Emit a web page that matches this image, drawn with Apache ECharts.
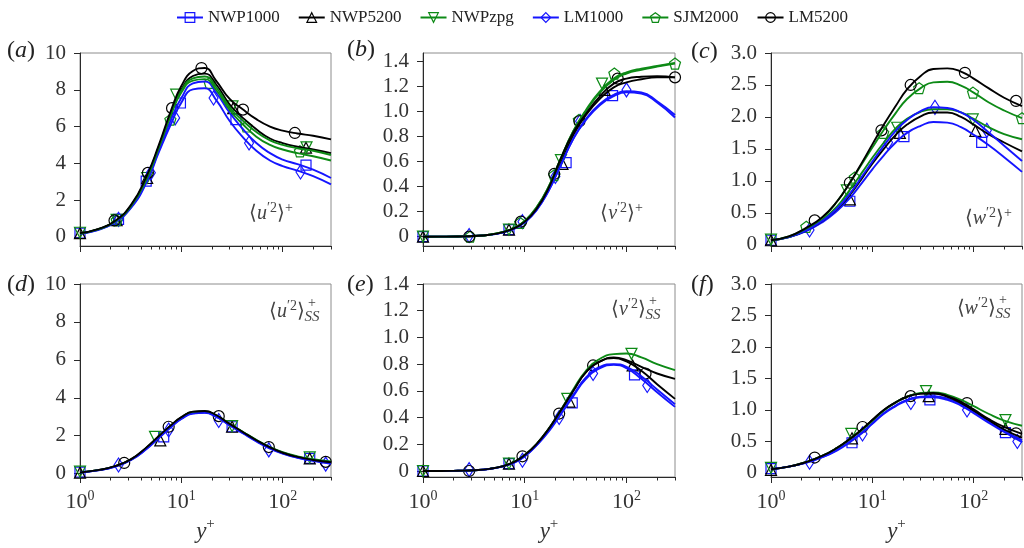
<!DOCTYPE html>
<html><head><meta charset="utf-8">
<script src="https://cdn.jsdelivr.net/npm/echarts@6/dist/echarts.min.js"></script>
<style>html,body{margin:0;padding:0;background:#fff}#c{width:1024px;height:548px}</style>
</head><body><div id="c"></div>
<script>
// ---------- data ----------
const xGrid = [1, 1.5, 2.2, 3.2, 4.5, 6, 8, 10, 13, 17, 22, 30, 40, 55, 75, 100, 140, 200, 300];
const seriesNames = ['NWP1000', 'NWP5200', 'NWPzpg', 'LM1000', 'SJM2000', 'LM5200'];
const xMajorTicks = [1, 10, 100];
const xMinorTicks = [2, 3, 4, 5, 6, 7, 8, 9, 20, 30, 40, 50, 60, 70, 80, 90, 200, 300];
const yTicksU = [0, 2, 4, 6, 8, 10];
const yTicksV = [0, 0.2, 0.4, 0.6, 0.8, 1.0, 1.2, 1.4];
const yTicksW = [0, 0.5, 1.0, 1.5, 2.0, 2.5, 3.0];

// (a) <u'^2>+
const aNWP1000 = [0.18, 0.38, 0.8, 1.62, 3.0, 4.7, 6.45, 7.55, 8.35, 8.45, 7.85, 6.75, 5.9, 5.1, 4.55, 4.2, 3.95, 3.65, 3.2];
const aNWP5200 = [0.18, 0.4, 0.83, 1.7, 3.15, 4.9, 6.8, 8.0, 8.75, 8.88, 8.3, 7.2, 6.5, 5.85, 5.35, 5.1, 4.9, 4.75, 4.55];
const aNWPzpg = [0.18, 0.4, 0.83, 1.7, 3.15, 4.9, 6.8, 7.95, 8.62, 8.72, 8.15, 7.05, 6.35, 5.7, 5.25, 5.0, 4.82, 4.68, 4.45];
const aLM1000 = [0.17, 0.37, 0.78, 1.58, 2.92, 4.6, 6.2, 7.3, 8.02, 8.08, 7.45, 6.3, 5.45, 4.68, 4.15, 3.85, 3.6, 3.3, 2.85];
const aSJM2000 = [0.18, 0.4, 0.82, 1.68, 3.1, 4.85, 6.7, 7.85, 8.5, 8.58, 8.0, 6.9, 6.15, 5.45, 5.0, 4.75, 4.55, 4.38, 4.15];
const aLM5200 = [0.2, 0.42, 0.85, 1.75, 3.25, 5.0, 6.95, 8.2, 9.02, 9.18, 8.5, 7.5, 6.95, 6.4, 6.0, 5.78, 5.62, 5.5, 5.3];
const aMkNWP1000 = [[1, 0.2], [2.4, 0.95], [4.5, 3.03], [9.8, 7.28], [34.6, 6.37], [170, 3.9]];
const aMkNWP5200 = [[1, 0.2], [2.3, 0.9], [4.6, 3.2], [32.5, 7.0], [170, 4.85]];
const aMkNWPzpg = [[1, 0.22], [2.3, 0.92], [4.6, 3.2], [8.9, 7.73], [32, 7.1], [172, 4.87]];
const aMkLM1000 = [[2.4, 0.95], [5.0, 3.48], [8.7, 6.47], [20.8, 7.55], [46.6, 5.1], [150, 3.53]];
const aMkSJM2000 = [[2.3, 0.9], [7.8, 6.37], [19, 8.37], [44, 6.0], [148, 4.65]];
const aMkLM5200 = [[2.19, 0.89], [4.68, 3.48], [8.1, 7.0], [15.8, 9.18], [40.6, 6.92], [132, 5.65]];

// (b) <v'^2>+
const bNWP1000 = [0, 0.0005, 0.002, 0.006, 0.015, 0.033, 0.066, 0.115, 0.21, 0.36, 0.55, 0.78, 0.93, 1.05, 1.12, 1.15, 1.14, 1.07, 0.95];
const bNWP5200 = [0, 0.0005, 0.002, 0.006, 0.016, 0.035, 0.07, 0.12, 0.22, 0.38, 0.58, 0.81, 0.97, 1.1, 1.19, 1.23, 1.255, 1.27, 1.27];
const bNWPzpg = [0, 0.0005, 0.002, 0.006, 0.016, 0.036, 0.072, 0.125, 0.23, 0.39, 0.6, 0.84, 1.0, 1.15, 1.25, 1.3, 1.33, 1.355, 1.38];
const bLM1000 = [0, 0.0005, 0.002, 0.006, 0.015, 0.033, 0.066, 0.115, 0.21, 0.36, 0.55, 0.78, 0.94, 1.06, 1.13, 1.16, 1.15, 1.08, 0.97];
const bSJM2000 = [0, 0.0005, 0.002, 0.006, 0.016, 0.036, 0.072, 0.125, 0.23, 0.39, 0.6, 0.84, 1.01, 1.16, 1.26, 1.31, 1.34, 1.36, 1.385];
const bLM5200 = [0, 0.0005, 0.002, 0.006, 0.016, 0.035, 0.07, 0.12, 0.22, 0.38, 0.6, 0.83, 0.98, 1.12, 1.22, 1.26, 1.275, 1.28, 1.27];
const bMkNWP1000 = [[1, 0], [7.0, 0.056], [25.5, 0.59], [73, 1.125]];
const bMkNWP5200 = [[1, 0], [7.0, 0.056], [23.5, 0.58], [61, 1.17]];
const bMkNWPzpg = [[1, 0], [7.0, 0.056], [22.7, 0.61], [57.5, 1.22]];
const bMkLM1000 = [[2.84, 0.01], [9.5, 0.12], [20, 0.48], [35, 0.92], [100, 1.17]];
const bMkSJM2000 = [[2.9, 0.0], [9.0, 0.11], [19.5, 0.49], [34, 0.93], [76, 1.3], [300, 1.38]];
const bMkLM5200 = [[2.84, 0.0], [9.2, 0.12], [19.5, 0.5], [34.5, 0.92], [82, 1.26], [300, 1.27]];

// (c) <w'^2>+
const cNWP1000 = [0.07, 0.12, 0.21, 0.35, 0.53, 0.73, 0.98, 1.18, 1.4, 1.6, 1.75, 1.86, 1.92, 1.91, 1.84, 1.72, 1.56, 1.37, 1.14];
const cNWP5200 = [0.07, 0.12, 0.22, 0.37, 0.56, 0.78, 1.05, 1.27, 1.5, 1.72, 1.88, 2.01, 2.07, 2.07, 2.0, 1.88, 1.73, 1.6, 1.46];
const cNWPzpg = [0.07, 0.12, 0.23, 0.39, 0.6, 0.86, 1.14, 1.36, 1.6, 1.82, 1.97, 2.08, 2.12, 2.12, 2.07, 1.97, 1.84, 1.73, 1.65];
const cLM1000 = [0.07, 0.12, 0.22, 0.37, 0.57, 0.8, 1.08, 1.3, 1.55, 1.78, 1.95, 2.09, 2.15, 2.14, 2.07, 1.95, 1.76, 1.55, 1.31];
const cSJM2000 = [0.07, 0.13, 0.25, 0.42, 0.68, 0.97, 1.28, 1.52, 1.8, 2.06, 2.28, 2.45, 2.54, 2.55, 2.49, 2.38, 2.23, 2.1, 1.98];
const cLM5200 = [0.07, 0.13, 0.26, 0.43, 0.68, 0.97, 1.3, 1.57, 1.88, 2.17, 2.43, 2.64, 2.75, 2.76, 2.71, 2.6, 2.45, 2.3, 2.17];
const cMkNWP1000 = [[1, 0.07], [6.0, 0.68], [20.5, 1.69], [120, 1.6]];
const cMkNWP5200 = [[1, 0.07], [6.0, 0.71], [18.7, 1.75], [104, 1.78]];
const cMkNWPzpg = [[1, 0.08], [5.6, 0.85], [17.6, 1.83], [98, 1.96]];
const cMkLM1000 = [[2.4, 0.23], [14.3, 1.6], [41.5, 2.15], [135, 1.79]];
const cMkSJM2000 = [[2.23, 0.28], [6.7, 1.05], [12.8, 1.75], [29, 2.45], [98.6, 2.38], [300, 1.98]];
const cMkLM5200 = [[2.7, 0.38], [6.0, 0.97], [12.3, 1.79], [23.9, 2.5], [82, 2.69], [262, 2.25]];

// (d) <u'^2>+_SS
const dNWP1000 = [0.06, 0.17, 0.37, 0.73, 1.3, 1.9, 2.5, 2.9, 3.18, 3.22, 3.02, 2.56, 2.16, 1.72, 1.34, 1.07, 0.85, 0.69, 0.55];
const dNWP5200 = [0.06, 0.18, 0.38, 0.75, 1.35, 1.95, 2.55, 2.95, 3.25, 3.28, 3.07, 2.6, 2.2, 1.75, 1.37, 1.1, 0.88, 0.72, 0.58];
const dNWPzpg = [0.06, 0.18, 0.38, 0.75, 1.35, 1.95, 2.55, 2.95, 3.25, 3.28, 3.07, 2.62, 2.22, 1.78, 1.4, 1.13, 0.91, 0.76, 0.64];
const dLM1000 = [0.06, 0.17, 0.36, 0.72, 1.28, 1.88, 2.47, 2.88, 3.16, 3.2, 3.0, 2.54, 2.14, 1.7, 1.32, 1.05, 0.83, 0.67, 0.52];
const dLM5200 = [0.06, 0.18, 0.39, 0.76, 1.37, 1.98, 2.58, 2.98, 3.27, 3.3, 3.09, 2.62, 2.21, 1.76, 1.38, 1.1, 0.88, 0.72, 0.6];
const dMkNWP1000 = [[1, 0.08], [6.7, 1.94], [31.7, 2.47], [185, 0.8]];
const dMkNWP5200 = [[1, 0.05], [6.2, 1.75], [31.7, 2.47], [185, 0.8]];
const dMkNWPzpg = [[1, 0.1], [5.5, 1.94], [31.7, 2.5], [185, 0.85]];
const dMkLM1000 = [[2.4, 0.45], [7.5, 2.3], [23.4, 2.8], [73, 1.25], [266, 0.5]];
const dMkLM5200 = [[2.73, 0.56], [7.5, 2.47], [23.4, 3.03], [73, 1.4], [266, 0.62]];

// (e) <v'^2>+_SS
const eNWP1000 = [0, 0, 0.002, 0.006, 0.016, 0.034, 0.067, 0.11, 0.19, 0.3, 0.42, 0.57, 0.7, 0.78, 0.8, 0.78, 0.71, 0.61, 0.5];
const eNWP5200 = [0, 0, 0.002, 0.006, 0.016, 0.035, 0.07, 0.12, 0.2, 0.31, 0.44, 0.6, 0.74, 0.82, 0.845, 0.82, 0.75, 0.65, 0.54];
const eNWPzpg = [0, 0, 0.002, 0.006, 0.016, 0.035, 0.07, 0.12, 0.2, 0.31, 0.44, 0.61, 0.75, 0.84, 0.875, 0.88, 0.85, 0.8, 0.755];
const eLM1000 = [0, 0, 0.002, 0.006, 0.015, 0.033, 0.065, 0.11, 0.19, 0.29, 0.41, 0.56, 0.69, 0.77, 0.795, 0.77, 0.69, 0.59, 0.48];
const eLM5200 = [0, 0, 0.002, 0.006, 0.016, 0.035, 0.07, 0.12, 0.2, 0.31, 0.44, 0.6, 0.74, 0.82, 0.85, 0.83, 0.78, 0.73, 0.69];
const eMkNWP1000 = [[1, 0], [7.0, 0.055], [29.3, 0.51], [120, 0.72]];
const eMkNWP5200 = [[1, 0], [7.0, 0.055], [27.5, 0.52], [115, 0.79]];
const eMkNWPzpg = [[1, 0], [7.0, 0.055], [26.2, 0.54], [112, 0.877]];
const eMkLM1000 = [[2.84, 0.01], [9.5, 0.08], [21.8, 0.4], [47, 0.73], [160, 0.64]];
const eMkLM5200 = [[2.84, 0.0], [9.5, 0.11], [21.8, 0.43], [47, 0.79], [154, 0.73]];

// (f) <w'^2>+_SS
const fNWP1000 = [0.06, 0.1, 0.16, 0.25, 0.37, 0.5, 0.65, 0.79, 0.95, 1.07, 1.16, 1.21, 1.22, 1.18, 1.09, 0.97, 0.82, 0.67, 0.52];
const fNWP5200 = [0.06, 0.1, 0.17, 0.27, 0.4, 0.54, 0.7, 0.84, 1.0, 1.12, 1.21, 1.26, 1.26, 1.21, 1.11, 0.99, 0.84, 0.69, 0.56];
const fNWPzpg = [0.06, 0.1, 0.17, 0.27, 0.4, 0.54, 0.69, 0.83, 0.99, 1.12, 1.21, 1.27, 1.28, 1.24, 1.16, 1.06, 0.94, 0.83, 0.75];
const fLM1000 = [0.06, 0.1, 0.16, 0.25, 0.36, 0.49, 0.64, 0.78, 0.94, 1.06, 1.15, 1.2, 1.2, 1.16, 1.07, 0.95, 0.8, 0.65, 0.49];
const fLM5200 = [0.06, 0.1, 0.17, 0.27, 0.4, 0.54, 0.7, 0.84, 1.0, 1.12, 1.21, 1.26, 1.27, 1.22, 1.13, 1.01, 0.86, 0.73, 0.62];
const fMkNWP1000 = [[1, 0.07], [6.3, 0.48], [37, 1.16], [206, 0.64]];
const fMkNWP5200 = [[1, 0.05], [6.3, 0.55], [36, 1.22], [206, 0.7]];
const fMkNWPzpg = [[1, 0.08], [6.2, 0.62], [33.9, 1.3], [206, 0.84]];
const fMkLM1000 = [[2.4, 0.17], [8.0, 0.62], [24, 1.12], [86, 1.0], [270, 0.5]];
const fMkLM5200 = [[2.7, 0.245], [8.0, 0.73], [23.9, 1.22], [86, 1.11], [262, 0.63]];

// ---------- styling ----------
const SERIF = "Liberation Serif";
const BLUE = '#1515ff', BLACK = '#000000', GREEN = '#0d8a16';
const seriesColors = [BLUE, BLACK, GREEN, BLUE, GREEN, BLACK];
const seriesSymbols = ['rect', 'triangle', 'path://M0,0L10,0L5,9Z', 'diamond',
  'path://M5,0L10,3.6L8.1,9.5L1.9,9.5L0,3.6Z', 'circle'];
const seriesSymbolSizes = [10, 11, 11, [9, 14], 11, 11];

const curvesByPanel = [
  [aNWP1000, aNWP5200, aNWPzpg, aLM1000, aSJM2000, aLM5200],
  [bNWP1000, bNWP5200, bNWPzpg, bLM1000, bSJM2000, bLM5200],
  [cNWP1000, cNWP5200, cNWPzpg, cLM1000, cSJM2000, cLM5200],
  [dNWP1000, dNWP5200, dNWPzpg, dLM1000, null, dLM5200],
  [eNWP1000, eNWP5200, eNWPzpg, eLM1000, null, eLM5200],
  [fNWP1000, fNWP5200, fNWPzpg, fLM1000, null, fLM5200]
];
const marksByPanel = [
  [aMkNWP1000, aMkNWP5200, aMkNWPzpg, aMkLM1000, aMkSJM2000, aMkLM5200],
  [bMkNWP1000, bMkNWP5200, bMkNWPzpg, bMkLM1000, bMkSJM2000, bMkLM5200],
  [cMkNWP1000, cMkNWP5200, cMkNWPzpg, cMkLM1000, cMkSJM2000, cMkLM5200],
  [dMkNWP1000, dMkNWP5200, dMkNWPzpg, dMkLM1000, null, dMkLM5200],
  [eMkNWP1000, eMkNWP5200, eMkNWPzpg, eMkLM1000, null, eMkLM5200],
  [fMkNWP1000, fMkNWP5200, fMkNWPzpg, fMkLM1000, null, fMkLM5200]
];

const layout = [
  { left: 80, top: 53, width: 251, height: 193, ymin: -0.5, ymax: 10, ticks: yTicksU, dec: 0, showX: false },
  { left: 423, top: 53, width: 252, height: 193, ymin: -0.074, ymax: 1.464, ticks: yTicksV, dec: 1, showX: false },
  { left: 771, top: 53, width: 251, height: 193, ymin: -0.02, ymax: 3.0, ticks: yTicksW, dec: 1, showX: false },
  { left: 80, top: 284, width: 251, height: 193, ymin: -0.18, ymax: 10, ticks: yTicksU, dec: 0, showX: true },
  { left: 423, top: 284, width: 252, height: 193, ymin: -0.045, ymax: 1.4, ticks: yTicksV, dec: 1, showX: true },
  { left: 771, top: 284, width: 251, height: 193, ymin: -0.064, ymax: 3.0, ticks: yTicksW, dec: 1, showX: true }
];

const AX = '#2a2a2a';
const grids = [], xAxes = [], yAxes = [], series = [];
layout.forEach((L, p) => {
  grids.push({ left: L.left, top: L.top, width: L.width, height: L.height, show: true,
    borderColor: '#8c8c8c', borderWidth: 1, backgroundColor: 'transparent', outerBoundsMode: 'none' });
  xAxes.push({
    type: 'log', logBase: 10, gridIndex: p, min: 1, max: 300, position: 'bottom',
    axisLine: { show: true, onZero: false, lineStyle: { color: AX, width: 1 } },
    axisTick: { show: true, customValues: xMajorTicks, length: 6, lineStyle: { color: AX } },
    axisLabel: { show: L.showX, customValues: xMajorTicks, margin: 12,
      formatter: v => '{b|10}{s|' + Math.round(Math.log10(v)) + '}',
      rich: { b: { fontFamily: SERIF, fontSize: 22, color: '#333' },
              s: { fontFamily: SERIF, fontSize: 14, color: '#333', padding: [0, 0, 13, 0] } } },
    splitLine: { show: false },
    name: L.showX ? '{i|y}{s|+}' : '', nameLocation: 'middle', nameGap: 40,
    nameTextStyle: { rich: { i: { fontFamily: SERIF, fontStyle: 'italic', fontSize: 23, color: '#333' },
                             s: { fontFamily: SERIF, fontSize: 15, color: '#333', padding: [0, 0, 14, 0] } } }
  });
  xAxes.push({
    type: 'log', logBase: 10, gridIndex: p, min: 1, max: 300, position: 'bottom',
    axisLine: { show: false, onZero: false },
    axisTick: { show: true, customValues: xMinorTicks, length: 3.5, lineStyle: { color: AX } },
    axisLabel: { show: false }, splitLine: { show: false }
  });
  yAxes.push({
    type: 'value', gridIndex: p, min: L.ymin, max: L.ymax,
    axisLine: { show: true, onZero: false, lineStyle: { color: AX, width: 1 } },
    axisTick: { show: true, customValues: L.ticks, length: 6, lineStyle: { color: AX } },
    axisLabel: { customValues: L.ticks, margin: 14, fontFamily: SERIF, fontSize: 21, color: '#333',
      formatter: v => (v === 0 ? '0' : v.toFixed(L.dec)) },
    splitLine: { show: false }
  });
  seriesNames.forEach((nm, s) => {
    const curve = curvesByPanel[p][s];
    if (!curve) return;
    const c = seriesColors[s];
    series.push({
      type: 'line', name: nm, xAxisIndex: 2 * p, yAxisIndex: p,
      data: xGrid.map((x, i) => [x, curve[i]]),
      smooth: 0.5, showSymbol: false,
      symbol: seriesSymbols[s], symbolSize: seriesSymbolSizes[s],
      lineStyle: { color: c, width: 1.9 },
      itemStyle: { color: 'transparent', borderColor: c, borderWidth: 1.2 },
      emphasis: { disabled: true }, silent: true
    });
    series.push({
      type: 'scatter', name: nm, xAxisIndex: 2 * p, yAxisIndex: p,
      data: marksByPanel[p][s],
      symbol: seriesSymbols[s], symbolSize: seriesSymbolSizes[s],
      itemStyle: { color: 'transparent', borderColor: c, borderWidth: 1.2, opacity: 1 },
      emphasis: { disabled: true }, silent: true
    });
  });
});

// ---------- text annotations ----------
const annoRich = {
  n: { fontFamily: SERIF, fontSize: 20, fill: '#444' },
  i: { fontFamily: SERIF, fontSize: 20, fontStyle: 'italic', fill: '#444' },
  s: { fontFamily: SERIF, fontSize: 14, fill: '#444', padding: [0, 0, 12, 0] },
  t: { fontFamily: SERIF, fontSize: 14, fill: '#444', lineHeight: 13 },
  u: { fontFamily: SERIF, fontSize: 15, fontStyle: 'italic', fill: '#444', lineHeight: 15 }
};
const panelLetters = ['a', 'b', 'c', 'd', 'e', 'f'];
const panelLabelPos = [[7, 51], [347, 50], [691, 52], [7, 285], [347, 285], [691, 285]];
const annoLetters = ['u', 'v', 'w', 'u', 'v', 'w'];
const annoPos = [[293, 214], [643, 214], [1012, 219], [305, 312], [646, 310], [996, 309]];

const graphics = [];
panelLetters.forEach((l, k) => {
  graphics.push({ type: 'text', x: panelLabelPos[k][0], y: panelLabelPos[k][1], silent: true,
    style: { text: '{n|(}{i|' + l + '}{n|)}', align: 'left', verticalAlign: 'middle',
      rich: { n: { fontFamily: SERIF, fontSize: 24, fill: '#222' },
              i: { fontFamily: SERIF, fontSize: 24, fontStyle: 'italic', fill: '#222' } } } });
});
annoLetters.forEach((l, k) => {
  const [x, y] = annoPos[k];
  if (k < 3) {
    graphics.push({ type: 'text', x: x, y: y, silent: true,
      style: { text: '{n|\u27E8}{i|' + l + '}{s|\u20322}{n|\u27E9}{s|+}', align: 'right', verticalAlign: 'middle', rich: annoRich } });
  } else {
    graphics.push({ type: 'text', x: x, y: y, silent: true,
      style: { text: '{n|\u27E8}{i|' + l + '}{s|\u20322}{n|\u27E9}', align: 'right', verticalAlign: 'middle', rich: annoRich } });
    graphics.push({ type: 'text', x: x + 7, y: y - 1, silent: true,
      style: { text: '{t|+}\n{u|SS}', align: 'center', verticalAlign: 'middle', rich: annoRich } });
  }
});

const chart = echarts.init(document.getElementById('c'), null, { renderer: 'canvas' });
chart.setOption({
  animation: false,
  backgroundColor: '#ffffff',
  legend: {
    top: 4, left: 'center', itemWidth: 26, itemHeight: 12, itemGap: 18,
    textStyle: { fontFamily: SERIF, fontSize: 17, color: '#222' },
    itemStyle: { borderWidth: 1.2 },
    data: seriesNames
  },
  grid: grids,
  xAxis: xAxes,
  yAxis: yAxes,
  series: series,
  graphic: graphics
});
</script>
</body></html>
